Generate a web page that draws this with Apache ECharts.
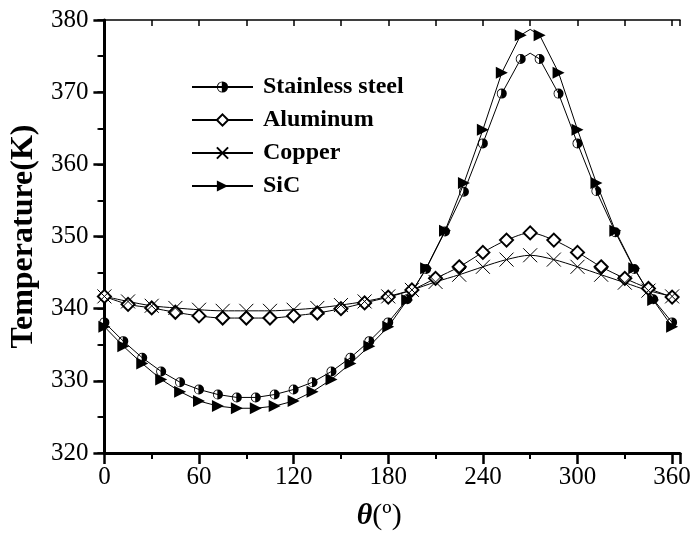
<!DOCTYPE html>
<html lang="en">
<head>
    <meta charset="UTF-8">
    <title>Temperature vs theta</title>
    <style>
        html, body { margin: 0; height: 100%; background: #fff; }
        #main { width: 695px; height: 540px; }
    </style>
    <script src="https://cdn.jsdelivr.net/npm/echarts@6/dist/echarts.min.js"></script>
</head>
<body>
<div id="main"></div>
<script>
    // stainless steel & SiC: markers every 12 deg, extra line point at 270 (no marker)
    var theta12 = [0, 12, 24, 36, 48, 60, 72, 84, 96, 108, 120, 132, 144, 156, 168, 180,
        192, 204, 216, 228, 240, 252, 264, 270, 276, 288, 300, 312, 324, 336, 348, 360];
    var stainless = [338.1, 335.5, 333.2, 331.3, 329.8, 328.8, 328.1, 327.7, 327.7, 328.1, 328.8, 329.8, 331.3, 333.2, 335.5, 338.1,
        341.3, 345.5, 350.7, 356.2, 362.9, 369.8, 374.6, 375.4, 374.6, 369.8, 362.9, 356.3, 350.6, 345.5, 341.3, 338.1];
    var sic = [337.5, 334.8, 332.4, 330.2, 328.5, 327.2, 326.5, 326.2, 326.2, 326.5, 327.2, 328.5, 330.2, 332.4, 334.8, 337.5,
        341.2, 345.6, 350.8, 357.4, 364.8, 372.7, 377.9, 378.7, 377.9, 372.7, 364.8, 357.4, 350.8, 345.6, 341.2, 337.5];

    // aluminum & copper: every 15 deg
    var theta15 = [0, 15, 30, 45, 60, 75, 90, 105, 120, 135, 150, 165, 180,
        195, 210, 225, 240, 255, 270, 285, 300, 315, 330, 345, 360];
    var aluminum = [341.7, 340.6, 340.1, 339.5, 339.0, 338.7, 338.7, 338.7, 339.0, 339.4, 340.0, 340.8, 341.6,
        342.6, 344.2, 345.8, 347.8, 349.5, 350.5, 349.5, 347.8, 345.8, 344.2, 342.8, 341.6];
    var copper = [341.7, 341.0, 340.4, 340.1, 339.85, 339.7, 339.7, 339.7, 339.85, 340.1, 340.5, 341.0, 341.7,
        342.6, 343.7, 344.7, 345.8, 346.8, 347.4, 346.8, 345.8, 344.7, 343.6, 342.5, 341.7];

    var names = ['Stainless steel', 'Aluminum', 'Copper', 'SiC'];
    var noMarkAt = 270;

    var FONT = 'Liberation Serif';
    var halfCircle = 'path://M0,-10A10,10 0 1,1 0,10A10,10 0 1,1 0,-10Z' +
        'M-1.2,-8.4A8.5,8.5 0 0,0 -1.2,8.4L-1.2,-8.4Z';
    var cross = 'path://M-10,-10L10,10M10,-10L-10,10';

    function pairs(xs, ys, skip) {
        return xs.map(function (x, i) {
            if (x === skip) return { value: [x, ys[i]], symbol: 'none' };
            return [x, ys[i]];
        });
    }

    var chart = echarts.init(document.getElementById('main'));

    var option = {
        animation: false,
        backgroundColor: '#fff',
        grid: { left: 103, right: 15, top: 20, bottom: 87 },
        legend: {
            orient: 'vertical',
            left: 186,
            top: 70,
            itemWidth: 61,
            itemHeight: 14,
            itemGap: 9,
            data: names,
            textStyle: {
                fontFamily: FONT, fontWeight: 'bold', fontSize: 24, color: '#000',
                lineHeight: 24, padding: [0, 0, 0, 5]
            }
        },
        xAxis: [{
            type: 'value', min: 0, max: 365, interval: 60,
            name: '{i|θ}{n|(º)}',
            nameLocation: 'middle',
            nameGap: 48,
            nameTextStyle: {
                padding: [0, 26, 0, 0],
                rich: {
                    i: { fontFamily: FONT, fontStyle: 'italic', fontWeight: 'bold', fontSize: 30, color: '#000' },
                    n: { fontFamily: FONT, fontSize: 30, color: '#000' }
                }
            },
            axisLine: { lineStyle: { color: '#000', width: 3 } },
            axisTick: { length: 11, lineStyle: { width: 2.5, color: '#000' } },
            minorTick: { show: true, splitNumber: 2, length: 6, lineStyle: { width: 2, color: '#000' } },
            axisLabel: {
                margin: 12, color: '#000', fontFamily: FONT, fontSize: 25,
                formatter: function (v) { return v <= 360 ? String(v) : ''; }
            },
            splitLine: { show: false }
        }, {
            type: 'value', min: 0, max: 365, interval: 30, position: 'top',
            axisLine: { lineStyle: { color: '#000', width: 1.5 } },
            axisTick: { inside: true, length: 6, lineStyle: { width: 1.5, color: '#000' } },
            axisLabel: { show: false },
            splitLine: { show: false }
        }],
        yAxis: [{
            type: 'value', min: 320, max: 380, interval: 10,
            name: 'Temperature(K)',
            nameLocation: 'middle',
            nameGap: 60,
            nameTextStyle: { fontFamily: FONT, fontWeight: 'bold', fontSize: 32, color: '#000', padding: [0, 0, 0, 0] },
            axisLine: { lineStyle: { color: '#000', width: 3 } },
            axisTick: { length: 11, lineStyle: { width: 2.5, color: '#000' } },
            minorTick: { show: true, splitNumber: 2, length: 6, lineStyle: { width: 2, color: '#000' } },
            axisLabel: { margin: 16, color: '#000', fontFamily: FONT, fontSize: 25 },
            splitLine: { show: false }
        }, {
            type: 'value', min: 320, max: 380, interval: 5, position: 'right',
            axisLine: { lineStyle: { color: '#000', width: 1.5 } },
            axisTick: { inside: true, length: 7, lineStyle: { width: 1.5, color: '#000' } },
            axisLabel: { show: false },
            splitLine: { show: false }
        }],
        series: [{
            name: names[0], type: 'line',
            data: pairs(theta12, stainless, noMarkAt),
            symbol: halfCircle, symbolSize: 10,
            itemStyle: { color: '#000', borderWidth: 0 },
            lineStyle: { color: '#000', width: 1 }
        }, {
            name: names[1], type: 'line', smooth: 0.3,
            data: pairs(theta15, aluminum),
            symbol: 'emptyDiamond', symbolSize: 13,
            itemStyle: { color: '#000', borderWidth: 1 },
            lineStyle: { color: '#000', width: 1 }
        }, {
            name: names[2], type: 'line', smooth: 0.3,
            data: pairs(theta15, copper),
            symbol: cross, symbolSize: 14,
            itemStyle: { color: '#000', borderColor: '#000', borderWidth: 1 },
            lineStyle: { color: '#000', width: 1 }
        }, {
            name: names[3], type: 'line',
            data: pairs(theta12, sic, noMarkAt),
            symbol: 'triangle', symbolRotate: -90, symbolSize: 12,
            itemStyle: { color: '#000' },
            lineStyle: { color: '#000', width: 1 }
        }]
    };

    chart.setOption(option);
    window.onresize = function () { chart.resize(); };
</script>
</body>
</html>
